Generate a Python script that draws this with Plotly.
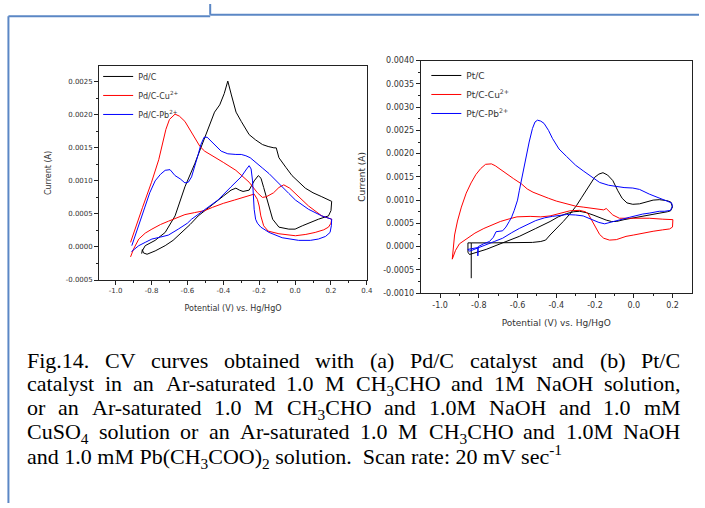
import plotly.graph_objects as go

# ---------------- data ----------------
# (a) Pd/C panel
pd_c_v = [-0.855, -0.851, -0.845, -0.825, -0.78, -0.724, -0.68, -0.632, -0.585, -0.54, -0.495, -0.449, -0.40, -0.357,
          -0.33, -0.31, -0.29, -0.256, -0.228, -0.205, -0.19, -0.175, -0.154, -0.125, -0.09, -0.035, 0.0, 0.04, 0.13,
          0.186, 0.20, 0.204, 0.149, 0.10, 0.057, 0.02, -0.017, -0.05, -0.09, -0.105, -0.118, -0.15, -0.182, -0.22,
          -0.256, -0.30, -0.329, -0.355, -0.375, -0.395, -0.42, -0.449, -0.504, -0.559, -0.614, -0.669, -0.724, -0.78,
          -0.835, -0.85]
pd_c_i = [-0.00010, -0.00004, -0.00009, -0.00011, -0.00006, 0.00002, 0.00010, 0.00022, 0.00034, 0.00047, 0.00057,
          0.00067, 0.00077, 0.00086, 0.00089, 0.00086, 0.00084, 0.00086, 0.00100, 0.00108, 0.00104, 0.00090, 0.00070,
          0.00042, 0.00030, 0.00027, 0.00027, 0.00032, 0.00042, 0.00047, 0.00055, 0.00069, 0.00076, 0.00082, 0.00089,
          0.00098, 0.00108, 0.00120, 0.00135, 0.00150, 0.00150, 0.00152, 0.00155, 0.00162, 0.00170, 0.00190, 0.00204,
          0.00230, 0.00251, 0.00232, 0.00215, 0.00204, 0.00165, 0.00126, 0.00091, 0.00047, 0.00022, 0.00010, 0.00002,
          -0.00005]

pd_cu_v = [-0.917, -0.90, -0.871, -0.835, -0.798, -0.75, -0.706, -0.66, -0.614, -0.56, -0.504, -0.46, -0.40, -0.338,
           -0.28, -0.228, -0.21, -0.20, -0.191, -0.175, -0.15, -0.09, 0.002, 0.06, 0.112, 0.16, 0.186, 0.20, 0.204,
           0.149, 0.075, 0.03, 0.002, -0.03, -0.063, -0.09, -0.12, -0.16, -0.182, -0.21, -0.256, -0.33, -0.40, -0.46,
           -0.504, -0.53, -0.559, -0.59, -0.614, -0.645, -0.669, -0.70, -0.72, -0.76, -0.80, -0.85, -0.89, -0.917]
pd_cu_i = [-0.00015, -0.00003, 0.00012, 0.00021, 0.00027, 0.00034, 0.00039, 0.00044, 0.00049, 0.00052, 0.00055,
           0.00060, 0.00066, 0.00071, 0.00076, 0.00080, 0.00072, 0.00062, 0.00047, 0.00032, 0.00024, 0.00020, 0.00017,
           0.00019, 0.00022, 0.00026, 0.00030, 0.00036, 0.00042, 0.00047, 0.00062, 0.00073, 0.00081, 0.00089, 0.00094,
           0.00090, 0.00082, 0.00076, 0.00075, 0.00082, 0.00098, 0.00116, 0.00128, 0.00138, 0.00145, 0.00152, 0.00165,
           0.00180, 0.00190, 0.00198, 0.00201, 0.00193, 0.00178, 0.00132, 0.00098, 0.00060, 0.00030, 0.00007]

pd_pb_v = [-0.912, -0.89, -0.871, -0.835, -0.798, -0.75, -0.706, -0.651, -0.60, -0.577, -0.504, -0.43, -0.357, -0.301,
           -0.27, -0.256, -0.245, -0.237, -0.228, -0.22, -0.21, -0.191, -0.145, -0.072, 0.02, 0.085, 0.13, 0.17, 0.195,
           0.202, 0.204, 0.149, 0.075, 0.002, -0.035, -0.072, -0.11, -0.145, -0.18, -0.219, -0.25, -0.274, -0.30,
           -0.33, -0.375, -0.412, -0.43, -0.458, -0.49, -0.507, -0.525, -0.54, -0.56, -0.577, -0.595, -0.614, -0.64,
           -0.669, -0.697, -0.724, -0.75, -0.78, -0.81, -0.853, -0.88, -0.90, -0.91]
pd_pb_i = [-0.00007, -0.00002, 0.00002, 0.00007, 0.00012, 0.00015, 0.00018, 0.00027, 0.00036, 0.00042, 0.00056,
           0.00071, 0.00091, 0.00106, 0.00118, 0.00123, 0.00118, 0.00100, 0.00057, 0.00042, 0.00036, 0.00030, 0.00022,
           0.00014, 0.00010, 0.00010, 0.00012, 0.00016, 0.00022, 0.00032, 0.00042, 0.00047, 0.00057, 0.00071, 0.00081,
           0.00091, 0.00102, 0.00111, 0.00119, 0.00128, 0.00135, 0.00138, 0.00140, 0.00140, 0.00141, 0.00145, 0.00150,
           0.00158, 0.00166, 0.00166, 0.00155, 0.00140, 0.00120, 0.00106, 0.00098, 0.00097, 0.00103, 0.00108, 0.00117,
           0.00116, 0.00110, 0.00100, 0.00082, 0.00047, 0.00025, 0.00012, 0.00002]

# (b) Pt/C panel
pt_c_v = [-0.839, -0.839, -0.75, -0.65, -0.523, -0.48, -0.455, -0.432, -0.40, -0.364, -0.33, -0.296, -0.27, -0.244,
          -0.22, -0.202, -0.18, -0.159, -0.135, -0.108, -0.082, -0.06, -0.035, -0.005, 0.03, 0.063, 0.10, 0.132, 0.17,
          0.191, 0.20, 0.19, 0.174, 0.12, 0.08, -0.005, -0.05, -0.09, -0.115, -0.142, -0.175, -0.21, -0.245, -0.279,
          -0.31, -0.347, -0.39, -0.432, -0.506, -0.591, -0.677, -0.762, -0.848, -0.856, -0.856, -0.839]
pt_c_i = [-0.00068, 0.00008, 0.00008, 0.00008, 0.00009, 0.00011, 0.00014, 0.00025, 0.00038, 0.00054, 0.00070,
          0.00088, 0.00105, 0.00122, 0.00138, 0.00149, 0.00156, 0.00159, 0.00154, 0.00142, 0.00120, 0.00104, 0.00094,
          0.00091, 0.00092, 0.00096, 0.00100, 0.00101, 0.00099, 0.00096, 0.00085, 0.00077, 0.00075, 0.00071, 0.00068,
          0.00063, 0.00058, 0.00054, 0.00054, 0.00057, 0.00063, 0.00068, 0.00073, 0.00076, 0.00075, 0.00071, 0.00064,
          0.00054, 0.00039, 0.00022, 0.00008, -0.00006, -0.00017, -0.00012, 0.00008, 0.00008]

pt_cu_v = [-0.937, -0.92, -0.90, -0.86, -0.82, -0.774, -0.73, -0.689, -0.64, -0.603, -0.535, -0.48, -0.432, -0.38,
           -0.33, -0.28, -0.25, -0.236, -0.21, -0.193, -0.176, -0.155, -0.125, -0.09, -0.04, 0.0, 0.046, 0.10, 0.149,
           0.185, 0.20, 0.202, 0.15, 0.08, 0.0, -0.074, -0.108, -0.13, -0.142, -0.155, -0.20, -0.261, -0.30, -0.347,
           -0.40, -0.44, -0.48, -0.52, -0.55, -0.58, -0.62, -0.66, -0.69, -0.715, -0.735, -0.765, -0.79, -0.815, -0.84,
           -0.865, -0.89, -0.91, -0.925, -0.932, -0.937]
pt_cu_i = [-0.00027, -0.00008, 0.00006, 0.00018, 0.00029, 0.00039, 0.00047, 0.00054, 0.00060, 0.00064, 0.00065,
           0.00064, 0.00066, 0.00072, 0.00077, 0.00078, 0.00075, 0.00071, 0.00050, 0.00038, 0.00026, 0.00018, 0.00014,
           0.00015, 0.00022, 0.00025, 0.00029, 0.00033, 0.00036, 0.00038, 0.00042, 0.00058, 0.00059, 0.00061, 0.00061,
           0.00061, 0.00068, 0.00076, 0.00082, 0.00079, 0.00082, 0.00085, 0.00087, 0.00092, 0.00098, 0.00104, 0.00110,
           0.00117, 0.00124, 0.00135, 0.00146, 0.00158, 0.00167, 0.00174, 0.00178, 0.00177, 0.00168, 0.00155, 0.00137,
           0.00115, 0.00085, 0.00055, 0.00025, 0.00000, -0.00027]

pt_pb_v = [-0.856, -0.83, -0.805, -0.805, -0.803, -0.775, -0.745, -0.725, -0.711, -0.677, -0.66, -0.643, -0.63,
           -0.617, -0.60, -0.591, -0.575, -0.557, -0.54, -0.523, -0.51, -0.497, -0.48, -0.463, -0.44, -0.42, -0.386,
           -0.347, -0.30, -0.261, -0.22, -0.176, -0.13, -0.09, -0.05, -0.005, 0.03, 0.08, 0.12, 0.166, 0.195, 0.20,
           0.19, 0.16, 0.132, 0.08, 0.046, -0.022, -0.09, -0.12, -0.15, -0.18, -0.21, -0.261, -0.30, -0.347, -0.42,
           -0.46, -0.506, -0.55, -0.591, -0.63, -0.677, -0.72, -0.762, -0.80, -0.848, -0.856]
pt_pb_i = [-0.00006, -0.00004, -0.00002, -0.00020, 0.00000, 0.00006, 0.00011, 0.00020, 0.00032, 0.00034, 0.00042,
           0.00054, 0.00064, 0.00078, 0.00100, 0.00120, 0.00155, 0.00191, 0.00225, 0.00254, 0.00268, 0.00272, 0.00270,
           0.00265, 0.00250, 0.00233, 0.00210, 0.00194, 0.00175, 0.00163, 0.00150, 0.00138, 0.00132, 0.00129, 0.00127,
           0.00126, 0.00123, 0.00113, 0.00106, 0.00099, 0.00094, 0.00088, 0.00078, 0.00076, 0.00076, 0.00072, 0.00070,
           0.00063, 0.00055, 0.00051, 0.00049, 0.00052, 0.00057, 0.00066, 0.00068, 0.00069, 0.00065, 0.00062, 0.00056,
           0.00048, 0.00039, 0.00030, 0.00018, 0.00011, 0.00004, -0.00003, -0.00010, -0.00006]

names_a = ["Pd/C", "Pd/C-Cu<sup>2+</sup>", "Pd/C-Pb<sup>2+</sup>"]
names_b = ["Pt/C", "Pt/C-Cu<sup>2+</sup>", "Pt/C-Pb<sup>2+</sup>"]
colors = ["#000000", "#ff0000", "#0000ff"]

xticks_a = [-1.0, -0.8, -0.6, -0.4, -0.2, 0.0, 0.2, 0.4]
xticks_b = [-1.0, -0.8, -0.6, -0.4, -0.2, 0.0, 0.2]
yticks_a = [-0.0005, 0.0, 0.0005, 0.0010, 0.0015, 0.0020, 0.0025]
yticks_b = [-0.0010, -0.0005, 0.0, 0.0005, 0.0010, 0.0015, 0.0020, 0.0025, 0.0030, 0.0035, 0.0040]
xlabels_a = ["-1.0", "-0.8", "-0.6", "-0.4", "-0.2", "0.0", "0.2", "0.4"]
xlabels_b = ["-1.0", "-0.8", "-0.6", "-0.4", "-0.2", "0.0", "0.2"]
ylabels_a = ["-0.0005", "0.0000", "0.0005", "0.0010", "0.0015", "0.0020", "0.0025"]
ylabels_b = ["-0.0010", "-0.0005", "0.0000", "0.0005", "0.0010", "0.0015", "0.0020", "0.0025", "0.0030",
             "0.0035", "0.0040"]

caption_lines = [
    ["Fig.14.", "CV", "curves", "obtained", "with", "(a)", "Pd/C", "catalyst", "and", "(b)", "Pt/C"],
    ["catalyst", "in", "an", "Ar-saturated", "1.0", "M", "CH<sub>3</sub>CHO", "and", "1M", "NaOH", "solution,"],
    ["or", "an", "Ar-saturated", "1.0", "M", "CH<sub>3</sub>CHO", "and", "1.0M", "NaOH", "and", "1.0", "mM"],
    ["CuSO<sub>4</sub>", "solution", "or", "an", "Ar-saturated", "1.0", "M", "CH<sub>3</sub>CHO", "and", "1.0M", "NaOH"],
]
caption_last = ("and 1.0 mM Pb(CH<sub>3</sub>COO)<sub>2</sub> solution.\u00a0 Scan rate: 20 mV sec<sup>-1</sup>")

# ---------------- figure ----------------
W, H = 705, 508


def px(x):
    return x / W


def py(y):
    return 1 - y / H


fig = go.Figure()
series_a = [(pd_c_v, pd_c_i), (pd_cu_v, pd_cu_i), (pd_pb_v, pd_pb_i)]
series_b = [(pt_c_v, pt_c_i), (pt_cu_v, pt_cu_i), (pt_pb_v, pt_pb_i)]
for (vx, iy), nm, col in zip(series_a, names_a, colors):
    fig.add_trace(go.Scatter(x=vx, y=iy, mode="lines", name=nm, line=dict(color=col, width=1),
                             xaxis="x", yaxis="y", legend="legend"))
for (vx, iy), nm, col in zip(series_b, names_b, colors):
    fig.add_trace(go.Scatter(x=vx, y=iy, mode="lines", name=nm, line=dict(color=col, width=1),
                             xaxis="x2", yaxis="y2", legend="legend2"))

tickfont_a = dict(family="DejaVu Sans", size=7, color="#333")
tickfont_b = dict(family="DejaVu Sans", size=8, color="#333")


def mids(vals):
    return [(a + b) / 2 for a, b in zip(vals[:-1], vals[1:])]


common = dict(showline=True, mirror=True, linecolor="#222", linewidth=1, showgrid=False, zeroline=False,
              ticks="outside", ticklen=4, tickcolor="#222", tickmode="array")

fig.update_layout(
    width=W, height=H, margin=dict(l=0, r=0, t=0, b=0),
    paper_bgcolor="white", plot_bgcolor="white",
    xaxis=dict(domain=[px(100), px(370)], range=[-1.092, 0.4], anchor="y",
               tickvals=xticks_a, ticktext=xlabels_a, tickfont=tickfont_a,
               minor=dict(ticks="outside", ticklen=2, tickcolor="#222", tickvals=mids(xticks_a)),
               title=dict(text="Potential (V) vs. Hg/HgO", font=dict(family="DejaVu Sans", size=8, color="#333"),
                          standoff=10), **common),
    yaxis=dict(domain=[py(281), py(63)], range=[-0.0005, 0.00274], anchor="x",
               tickvals=yticks_a, ticktext=ylabels_a, tickfont=tickfont_a,
               minor=dict(ticks="outside", ticklen=2, tickcolor="#222", tickvals=mids(yticks_a)),
               title=dict(text="Current (A)", font=dict(family="DejaVu Sans", size=8, color="#333"),
                          standoff=12), **common),
    xaxis2=dict(domain=[px(424.3), px(697.8)], range=[-1.1, 0.3], anchor="y2",
                tickvals=xticks_b, ticktext=xlabels_b, tickfont=tickfont_b,
                minor=dict(ticks="outside", ticklen=2, tickcolor="#222", tickvals=mids(xticks_b)),
                title=dict(text="Potential (V) vs. Hg/HgO", font=dict(family="DejaVu Sans", size=9, color="#333"),
                           standoff=11), **common),
    yaxis2=dict(domain=[py(294.3), py(57.7)], range=[-0.001, 0.004], anchor="x2",
                tickvals=yticks_b, ticktext=ylabels_b, tickfont=tickfont_b,
                minor=dict(ticks="outside", ticklen=2, tickcolor="#222", tickvals=mids(yticks_b)),
                title=dict(text="Current (A)", font=dict(family="DejaVu Sans", size=9, color="#333"),
                           standoff=16), **common),
    legend=dict(x=px(99), y=py(59), xanchor="left", yanchor="top", bgcolor="rgba(0,0,0,0)",
                font=dict(family="DejaVu Sans", size=8, color="#333"), tracegroupgap=0, itemwidth=30),
    legend2=dict(x=px(430), y=py(58), xanchor="left", yanchor="top", bgcolor="rgba(0,0,0,0)",
                 font=dict(family="DejaVu Sans", size=9, color="#333"), tracegroupgap=0, itemwidth=30),
    showlegend=True,
)

# page (text box) borders
border = dict(type="line", xref="paper", yref="paper", line=dict(color="#5b87c5", width=2))
fig.add_shape(x0=px(8.5), y0=py(12.5), x1=px(8.5), y1=py(508), **border)
fig.add_shape(x0=px(8.5), y0=py(12.5), x1=px(212), y1=py(12.5), **border)
fig.add_shape(x0=px(212), y0=py(0), x1=px(212), y1=py(11), **border)
fig.add_shape(x0=px(212), y0=py(11), x1=px(705), y1=py(11), **border)

# ---------------- caption (justified) ----------------
TW = {' ': 250, '(': 333, ')': 333, ',': 250, '-': 333, '.': 250, '/': 278, ':': 278,
      'A': 722, 'B': 667, 'C': 667, 'D': 722, 'E': 611, 'F': 556, 'G': 722, 'H': 722, 'I': 333, 'M': 889,
      'N': 722, 'O': 722, 'P': 556, 'S': 556, 'T': 611, 'U': 722, 'V': 722,
      'a': 444, 'b': 500, 'c': 444, 'd': 500, 'e': 444, 'f': 333, 'g': 500, 'h': 500, 'i': 278, 'j': 278,
      'k': 500, 'l': 278, 'm': 778, 'n': 500, 'o': 500, 'p': 500, 'q': 500, 'r': 333, 's': 389, 't': 278,
      'u': 500, 'v': 500, 'w': 722, 'x': 500, 'y': 500, 'z': 444}
for d in "0123456789":
    TW[d] = 500

FS = 22
CAP_L, CAP_R = 27, 686
line_y = [362, 386, 410, 434, 461]


def word_width(w):
    total = 0.0
    scale = 1.0
    i = 0
    while i < len(w):
        if w.startswith("<sub>", i) or w.startswith("<sup>", i):
            scale = 0.7
            i += 5
            continue
        if w.startswith("</sub>", i) or w.startswith("</sup>", i):
            scale = 1.0
            i += 6
            continue
        total += TW.get(w[i], 500) * scale
        i += 1
    return total * FS / 1000.0


capfont = dict(family="Liberation Serif", size=FS, color="#000")
TOP_OFF = 14  # distance from line centre to the top of a word's text box
for words, yc in zip(caption_lines, line_y):
    widths = [word_width(w) for w in words]
    gap = (CAP_R - CAP_L - sum(widths)) / (len(words) - 1)
    x = CAP_L
    for w, wd in zip(words, widths):
        fig.add_annotation(x=px(x - 2), y=py(yc - TOP_OFF), xref="paper", yref="paper", text=w, showarrow=False,
                           xanchor="left", yanchor="top", font=capfont)
        x += wd + gap
fig.add_annotation(x=px(CAP_L - 2), y=py(line_y[4]), xref="paper", yref="paper", text=caption_last,
                   showarrow=False, xanchor="left", yanchor="middle", font=capfont)

fig.write_html("out.html")
